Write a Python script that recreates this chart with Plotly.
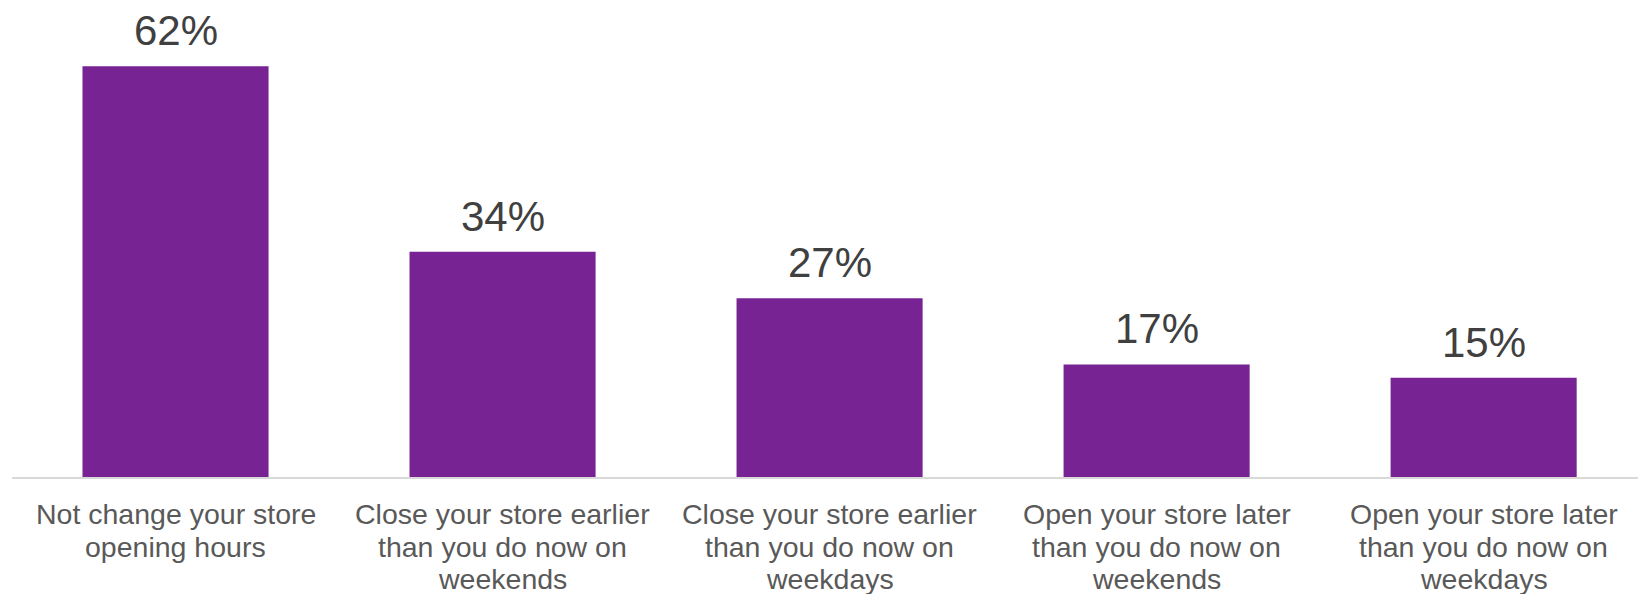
import plotly.graph_objects as go

# each category label is stored as its wrapped lines
categories = [
    ["Not change your store", "opening hours"],
    ["Close your store earlier", "than you do now on", "weekends"],
    ["Close your store earlier", "than you do now on", "weekdays"],
    ["Open your store later", "than you do now on", "weekends"],
    ["Open your store later", "than you do now on", "weekdays"],
]
values = [62, 34, 27, 17, 15]

BAR_COLOR = "#772394"
FONT = "Liberation Sans, Arial, sans-serif"
LABEL_SIZE = 28.5
LINE_STEP = 32.5  # px between label baselines
FIRST_LINE = 19  # px from axis line to top of first label line

positions = list(range(len(categories)))

fig = go.Figure(
    go.Bar(
        x=positions,
        y=values,
        marker=dict(color=BAR_COLOR, line=dict(width=0)),
        hoverinfo="skip",
    )
)

# value labels sitting above each bar
for xi, v in zip(positions, values):
    fig.add_annotation(
        x=xi,
        y=v,
        text=f"{v}%",
        showarrow=False,
        yanchor="bottom",
        yshift=10,
        font=dict(family=FONT, size=42, color="#404040"),
    )

# category labels under the axis, one annotation per line for tight leading
for xi, lines in zip(positions, categories):
    for k, line in enumerate(lines):
        fig.add_annotation(
            x=xi,
            xref="x",
            y=0,
            yref="paper",
            text=line,
            showarrow=False,
            xanchor="center",
            yanchor="top",
            yshift=-(FIRST_LINE + k * LINE_STEP),
            font=dict(family=FONT, size=LABEL_SIZE, color="#595959"),
        )

fig.update_layout(
    width=1638,
    height=594,
    margin=dict(l=12, r=0, t=0, b=117),
    paper_bgcolor="white",
    plot_bgcolor="white",
    bargap=0.431,
    showlegend=False,
    font=dict(family=FONT),
)
fig.update_xaxes(
    range=[-0.5, 4.472],
    tickvals=positions,
    showticklabels=False,
    automargin=False,
    showline=True,
    linecolor="#d9d9d9",
    linewidth=2,
    showgrid=False,
    ticks="",
    zeroline=False,
)
fig.update_yaxes(
    range=[0, 72],
    visible=False,
    showgrid=False,
    zeroline=False,
    automargin=False,
)

fig.write_html("out.html")
